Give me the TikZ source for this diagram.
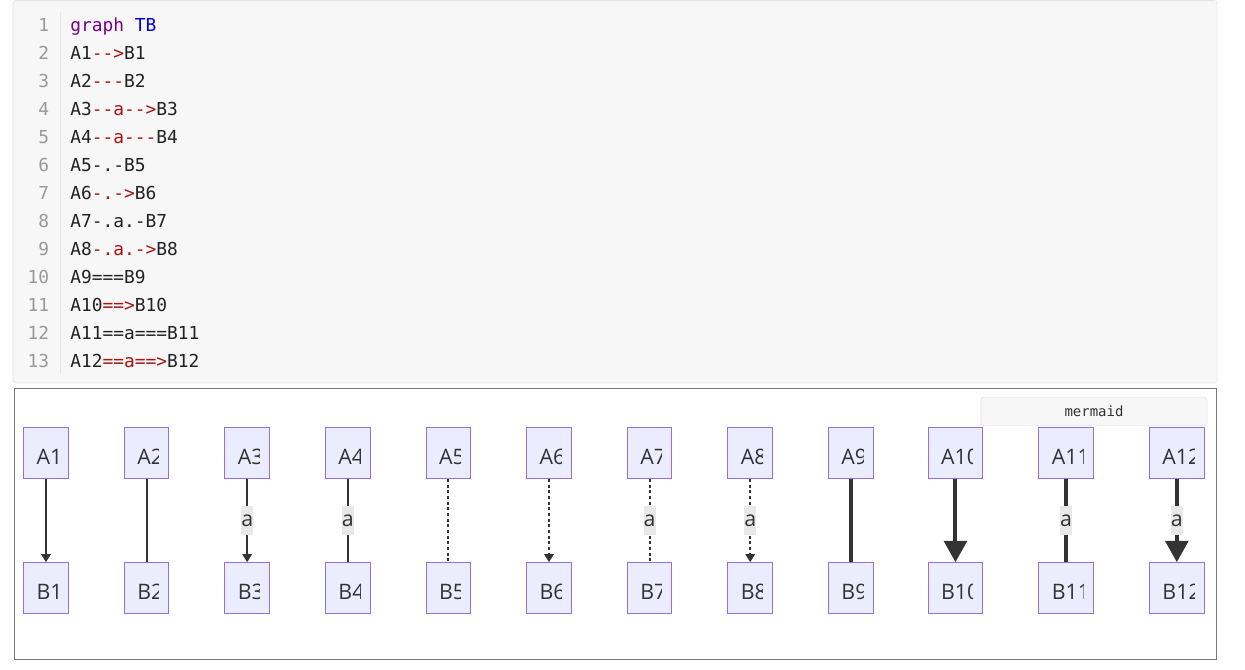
\documentclass[tikz,border=0pt]{standalone}
\usepackage{fontspec}
\setmainfont{Open Sans}
\setmonofont{DejaVu Sans Mono}
\usetikzlibrary{positioning, arrows.meta}
\definecolor{mmfill}{RGB}{236,236,255}
\definecolor{mmborder}{RGB}{147,112,219}
\definecolor{mmline}{RGB}{51,51,51}
\definecolor{mmlabel}{RGB}{232,232,232}
\definecolor{codebg}{RGB}{247,247,247}
\definecolor{codeframe}{RGB}{228,228,228}
\definecolor{codetext}{RGB}{34,34,34}
\definecolor{codekw}{RGB}{119,0,136}
\definecolor{codedef}{RGB}{0,0,221}
\definecolor{codeop}{RGB}{170,17,17}
\definecolor{codenum}{RGB}{153,153,153}
\definecolor{outframe}{RGB}{120,120,120}
\newcommand{\kw}[1]{\textcolor{codekw}{#1}}
\newcommand{\df}[1]{\textcolor{codedef}{#1}}
\newcommand{\op}[1]{\textcolor{codeop}{#1}}

\begin{document}
\begin{tikzpicture}[
  x=0.75pt, y=-0.75pt,
  codeline/.style={anchor=base west, inner sep=0pt, text=codetext,
    font=\ttfamily\fontsize{13.4}{16}\selectfont},
  lineno/.style={anchor=base east, inner sep=0pt, text=codenum,
    font=\ttfamily\fontsize{13.4}{16}\selectfont},
  mbox/.style={
    draw=mmborder, fill=mmfill, line width=0.75pt,
    minimum width=33.5pt, minimum height=38pt, inner sep=0pt,
    path picture={
      \clip (path picture bounding box.south west)
        rectangle ([xshift=-7.5pt]path picture bounding box.north east);
      \node[anchor=base west, inner sep=0pt, outer sep=0pt,
        minimum width=0pt, minimum height=0pt, text=mmline,
        font=\fontsize{16}{19}\selectfont] (#1txt)
        at ([xshift=9.75pt, yshift=-8.5pt]path picture bounding box.west) {#1};
    }
  },
  lbl/.style={fill=mmlabel, inner xsep=0pt, inner ysep=0pt,
    minimum height=21.75pt, text=mmline, font=\fontsize{16}{19}\selectfont},
  thinedge/.style={draw=mmline, line width=1.5pt},
  thickedge/.style={draw=mmline, line width=3pt},
  dotedge/.style={draw=mmline, line width=1.6pt, dash pattern=on 2.25pt off 2pt},
  smalltip/.style={-{Triangle[length=6pt, width=7pt]}},
  bigtip/.style={-{Triangle[length=16pt, width=17pt]}},
  tag/.style={draw=codeframe, fill=codebg, rounded corners=2pt,
    minimum width=169.5pt, minimum height=21.5pt, text=black!80,
    font=\ttfamily\fontsize{10.5}{12}\selectfont}
]
  \useasboundingbox (0,0) rectangle (1245,669);

  % --- code block ---
  \draw[codeframe, fill=codebg, rounded corners=2pt] (13,0.5) rectangle (1217,383);
  \draw[codeframe, line width=0.75pt] (60,12) -- (60,373);

  \foreach \i/\yy in {1/31.5, 2/59.5, 3/87.5, 4/115.5, 5/143.5, 6/171.5, 7/199,
                      8/227, 9/255, 10/283, 11/311, 12/339, 13/367}
    \node[lineno] (num\i) at (49.5,\yy) {\i};

  \node[codeline] (code1)  at (70,31.5)  {\kw{graph} \df{TB}};
  \node[codeline] (code2)  at (70,59.5)  {A1\op{-->}B1};
  \node[codeline] (code3)  at (70,87.5)  {A2\op{---}B2};
  \node[codeline] (code4)  at (70,115.5) {A3\op{--a-->}B3};
  \node[codeline] (code5)  at (70,143.5) {A4\op{--a---}B4};
  \node[codeline] (code6)  at (70,171.5) {A5-.-B5};
  \node[codeline] (code7)  at (70,199)   {A6\op{-.->}B6};
  \node[codeline] (code8)  at (70,227)   {A7-.a.-B7};
  \node[codeline] (code9)  at (70,255)   {A8\op{-.a.->}B8};
  \node[codeline] (code10) at (70,283)   {A9===B9};
  \node[codeline] (code11) at (70,311)   {A10\op{==>}B10};
  \node[codeline] (code12) at (70,339)   {A11==a===B11};
  \node[codeline] (code13) at (70,367)   {A12\op{==a==>}B12};

  % --- diagram frame ---
  \draw[outframe, line width=0.75pt] (14,388) rectangle (1216,659);

  % --- top row ---
  \node[mbox=A1]                                    (A1)  at (46,453) {};
  \node[mbox=A2,  right=41.2pt of A1]               (A2)  {};
  \node[mbox=A3,  right=41.2pt of A2]               (A3)  {};
  \node[mbox=A4,  right=41.2pt of A3]               (A4)  {};
  \node[mbox=A5,  right=41.2pt of A4]               (A5)  {};
  \node[mbox=A6,  right=41.2pt of A5]               (A6)  {};
  \node[mbox=A7,  right=41.2pt of A6]               (A7)  {};
  \node[mbox=A8,  right=41.2pt of A7]               (A8)  {};
  \node[mbox=A9,  right=41.2pt of A8]               (A9)  {};
  \node[mbox=A10, minimum width=41pt, right=40.5pt of A9]   (A10) {};
  \node[mbox=A11, minimum width=41pt, right=41.25pt of A10] (A11) {};
  \node[mbox=A12, minimum width=41pt, right=41.25pt of A11] (A12) {};

  % --- bottom row ---
  \node[mbox=B1,  below=62.5pt of A1]                   (B1)  {};
  \node[mbox=B2,  below=62.5pt of A2]                   (B2)  {};
  \node[mbox=B3,  below=62.5pt of A3]                   (B3)  {};
  \node[mbox=B4,  below=62.5pt of A4]                   (B4)  {};
  \node[mbox=B5,  below=62.5pt of A5]                   (B5)  {};
  \node[mbox=B6,  below=62.5pt of A6]                   (B6)  {};
  \node[mbox=B7,  below=62.5pt of A7]                   (B7)  {};
  \node[mbox=B8,  below=62.5pt of A8]                   (B8)  {};
  \node[mbox=B9,  below=62.5pt of A9]                   (B9)  {};
  \node[mbox=B10, minimum width=41pt, below=62.5pt of A10] (B10) {};
  \node[mbox=B11, minimum width=41pt, below=62.5pt of A11] (B11) {};
  \node[mbox=B12, minimum width=41pt, below=62.5pt of A12] (B12) {};

  % --- links ---
  \draw[thinedge, smalltip] (A1) -- (B1);
  \draw[thinedge]           (A2) -- (B2);
  \draw[thinedge, smalltip] (A3) -- node[lbl] (la3) {a} (B3);
  \draw[thinedge]           (A4) -- node[lbl] (la4) {a} (B4);
  \draw[dotedge]            (A5) -- (B5);
  \draw[dotedge, smalltip]  (A6) -- (B6);
  \draw[dotedge]            (A7) -- node[lbl] (la7) {a} (B7);
  \draw[dotedge, smalltip]  (A8) -- node[lbl] (la8) {a} (B8);
  \draw[thickedge]          (A9) -- (B9);
  \draw[thickedge, bigtip]  (A10) -- (B10);
  \draw[thickedge]          (A11) -- node[lbl] (la11) {a} (B11);
  \draw[thickedge, bigtip]  (A12) -- node[lbl] (la12) {a} (B12);

  % --- renderer tag ---
  \node[tag] (mtag) at (1094,411.5) {mermaid};
\end{tikzpicture}
\end{document}
